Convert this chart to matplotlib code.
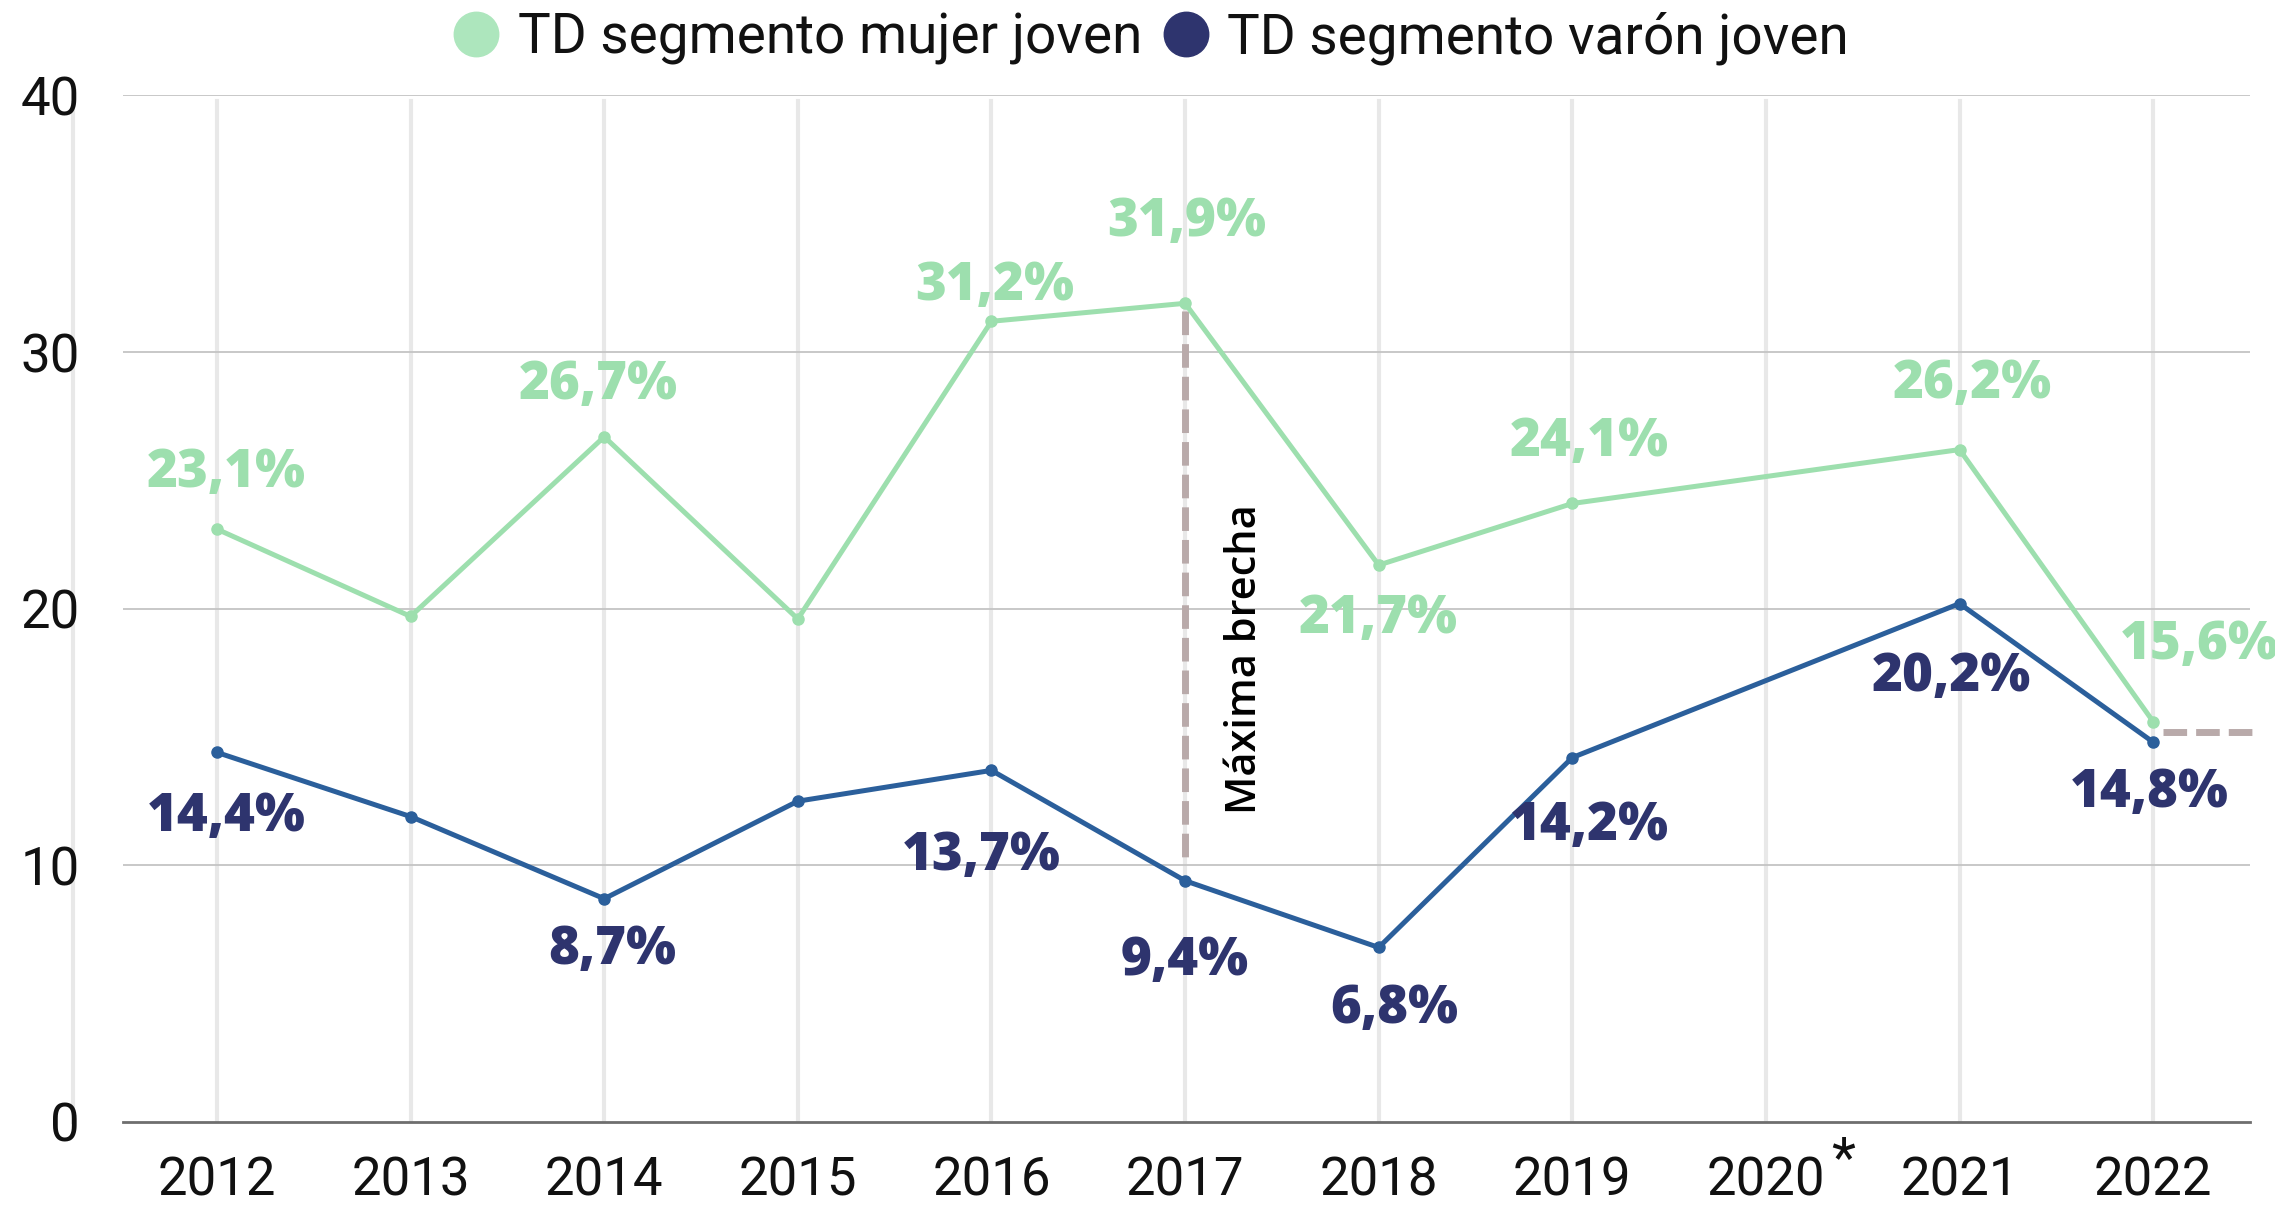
import numpy as np
import matplotlib.pyplot as plt
from matplotlib.lines import Line2D

years = ['2012', '2013', '2014', '2015', '2016', '2017', '2018', '2019', '2020', '2021', '2022']
mujer = [23.1, 19.7, 26.7, 19.6, 31.2, 31.9, 21.7, 24.1, np.nan, 26.2, 15.6]
varon = [14.4, 11.9, 8.7, 12.5, 13.7, 9.4, 6.8, 14.2, np.nan, 20.2, 14.8]
show_label = [True, False, True, False, True, True, True, True, False, True, True]
brecha_top = 31.6
brecha_bottom = 10.3
ref_2022 = 15.2

# label offsets in points (dx, dy)
off_mujer = [(7, 40), None, (-4, 37), None, (2, 25), (1, 58), (0, -39), (12, 44), None, (9, 47), (33, 55)]
off_varon = [(7, -47), None, (6, -37), None, (-7, -62), (0, -58), (11, -45), (12, -50), None, (-6, -53), (-3, -37)]

c_mujer = '#9ddfae'
c_mujer_leg = '#ade6bd'
c_varon_line = '#2b5f9b'
c_varon_txt = '#2e346e'
c_dash = '#b9aaaa'

plt.rcParams['font.family'] = ['Roboto', 'DejaVu Sans']

fig = plt.figure(figsize=(22.75, 12.19), dpi=100)
ax = fig.add_axes([0.0541, 0.0796, 0.9349, 0.8421])

x = np.arange(len(years))
m = np.array(mujer)
v = np.array(varon)
ok = ~np.isnan(m)

for xi in x:
    ax.axvline(xi, ymax=0.995, color='#e8e8e8', lw=3, zorder=0)
ax.plot([-0.743, -0.743], [0, 39.7], color='#e8e8e8', lw=3, clip_on=False, zorder=0)
for yv in [10, 20, 30, 40]:
    ax.axhline(yv, color='#c4c4c4', lw=1.3, zorder=1)

ax.plot(x[ok], m[ok], color=c_mujer, lw=3.6, marker='o', ms=8, zorder=3)
ax.plot(x[ok], v[ok], color=c_varon_line, lw=3.6, marker='o', ms=8, zorder=3)

for i in x:
    if not show_label[i]:
        continue
    ax.annotate(f"{m[i]:.1f}%".replace('.', ','), (i, m[i]), xytext=off_mujer[i],
                textcoords='offset points', ha='center', va='center', fontsize=38,
                fontweight=800, family='Open Sans', color=c_mujer, zorder=4)
    ax.annotate(f"{v[i]:.1f}%".replace('.', ','), (i, v[i]), xytext=off_varon[i],
                textcoords='offset points', ha='center', va='center', fontsize=38,
                fontweight=800, family='Open Sans', color=c_varon_txt, zorder=4)

# maxima brecha
ax.plot([5, 5], [brecha_top, brecha_bottom], color=c_dash, lw=5, dashes=(3.4, 1.3), zorder=2)
ax.text(5.31, (brecha_top + brecha_bottom) / 2 - 2.9, 'Máxima brecha', rotation=90,
        ha='center', va='center', fontsize=30, family='Open Sans', fontweight=600, color='black')
ax.plot([10.05, 10.52], [ref_2022, ref_2022], color=c_dash, lw=5, dashes=(3.4, 1.3),
        clip_on=False, zorder=2)

ax.set_xlim(-0.485, 10.5)
ax.set_ylim(0, 40)
ax.set_xticks(x)
ax.set_xticklabels(years)
ax.set_yticks([0, 10, 20, 30, 40])
ax.tick_params(axis='x', length=0, pad=24, labelsize=38, labelcolor='#111111')
ax.tick_params(axis='y', length=0, pad=31, labelsize=38, labelcolor='#111111')
ax.text(8.4, -1.55, '*', ha='center', va='center', fontsize=40, color='#111111')

for s in ['top', 'right', 'left']:
    ax.spines[s].set_visible(False)
ax.spines['bottom'].set_color('#6e6e6e')
ax.spines['bottom'].set_linewidth(2)

handles = [Line2D([], [], ls='', marker='o', ms=32, color=c_mujer_leg),
           Line2D([], [], ls='', marker='o', ms=32, color=c_varon_txt)]
fig.legend(handles, ['TD segmento mujer joven', 'TD segmento varón joven'], loc='center',
           bbox_to_anchor=(0.505, 0.969), ncol=2, frameon=False,
           prop={'size': 39.5}, labelcolor='#111111',
           handletextpad=0.25, columnspacing=0.3, handlelength=1.0)

fig.savefig('out.png', dpi=100)
